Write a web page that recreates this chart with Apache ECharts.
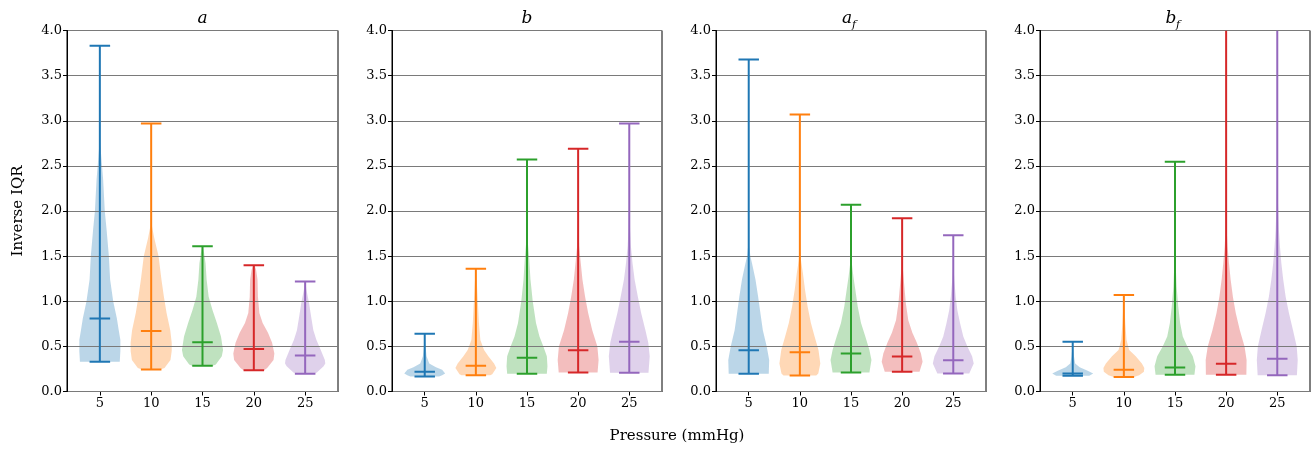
<!DOCTYPE html>
<html>
<head>
<meta charset="utf-8">
<script src="https://cdn.jsdelivr.net/npm/echarts@6/dist/echarts.min.js"></script>
<style>html,body{margin:0;padding:0;background:#fff}#c{width:1312px;height:451px}</style>
</head>
<body>
<div id="c"></div>
<script>
// ---------------- data ----------------
const positions = [5, 10, 15, 20, 25];
const xTickLabels = ['5', '10', '15', '20', '25'];
const yTickLabels = ['0.0', '0.5', '1.0', '1.5', '2.0', '2.5', '3.0', '3.5', '4.0'];
const panelTitles = [['a', ''], ['b', ''], ['a', 'f'], ['b', 'f']];

// panel a
const aMin = [0.33, 0.244, 0.284, 0.236, 0.196];
const aMax = [3.83, 2.97, 1.61, 1.40, 1.22];
const aMedian = [0.81, 0.67, 0.547, 0.47, 0.40];
const aShape = [
  [[0.33,0.97],[0.45,1.0],[0.57,1.0],[0.68,0.92],[0.81,0.83],[1.0,0.65],[1.24,0.5],[1.5,0.44],[1.79,0.33],[2.0,0.24],[2.35,0.16],[2.6,0.07],[2.75,0.02],[3.83,0.0]],
  [[0.244,0.45],[0.26,0.65],[0.35,0.94],[0.45,1.0],[0.54,1.0],[0.68,0.93],[0.87,0.75],[1.05,0.62],[1.24,0.5],[1.5,0.36],[1.7,0.15],[1.83,0.04],[2.0,0.01],[2.97,0]],
  [[0.284,0.5],[0.30,0.65],[0.39,0.94],[0.46,1.0],[0.61,0.9],[0.76,0.7],[0.9,0.49],[1.05,0.3],[1.24,0.2],[1.42,0.15],[1.53,0.08],[1.61,0.02]],
  [[0.236,0.5],[0.26,0.65],[0.35,0.96],[0.42,1.0],[0.54,0.89],[0.65,0.69],[0.76,0.43],[0.87,0.27],[1.05,0.2],[1.24,0.18],[1.35,0.11],[1.40,0.03]],
  [[0.196,0.45],[0.21,0.57],[0.28,0.9],[0.31,0.98],[0.35,0.96],[0.46,0.76],[0.57,0.55],[0.68,0.4],[0.83,0.29],[0.98,0.19],[1.13,0.06],[1.22,0.01]]
];

// panel b
const bMin = [0.166, 0.18, 0.196, 0.21, 0.207];
const bMax = [0.64, 1.36, 2.57, 2.69, 2.97];
const bMedian = [0.22, 0.284, 0.373, 0.458, 0.55];
const bShape = [
  [[0.166,0.7],[0.18,0.85],[0.2,1.0],[0.24,0.85],[0.27,0.55],[0.31,0.22],[0.39,0.09],[0.5,0.04],[0.64,0.01]],
  [[0.18,0.7],[0.19,0.8],[0.26,1.0],[0.31,0.89],[0.39,0.61],[0.46,0.4],[0.57,0.22],[0.76,0.15],[0.98,0.1],[1.2,0.05],[1.36,0.01]],
  [[0.196,0.97],[0.28,1.0],[0.39,0.97],[0.5,0.8],[0.61,0.61],[0.76,0.44],[1.0,0.28],[1.24,0.17],[1.5,0.1],[1.68,0.03],[2.0,0.01],[2.57,0]],
  [[0.21,0.95],[0.35,1.0],[0.5,0.94],[0.68,0.69],[0.87,0.49],[1.05,0.34],[1.24,0.21],[1.42,0.13],[1.61,0.05],[1.9,0.01],[2.69,0]],
  [[0.207,0.94],[0.39,1.0],[0.54,0.93],[0.68,0.79],[0.87,0.58],[1.05,0.42],[1.24,0.26],[1.42,0.16],[1.61,0.08],[1.79,0.04],[2.1,0.01],[2.97,0]]
];

// panel a_f
const afMin = [0.196, 0.177, 0.21, 0.218, 0.20];
const afMax = [3.68, 3.07, 2.07, 1.92, 1.73];
const afMedian = [0.458, 0.436, 0.42, 0.388, 0.347];
const afShape = [
  [[0.196,0.98],[0.35,1.0],[0.5,0.88],[0.68,0.69],[0.87,0.57],[1.05,0.46],[1.24,0.33],[1.42,0.16],[1.5,0.08],[1.61,0.03],[2.2,0.005],[3.68,0]],
  [[0.177,0.8],[0.2,0.9],[0.31,1.0],[0.46,0.91],[0.61,0.72],[0.76,0.54],[0.94,0.38],[1.13,0.25],[1.31,0.15],[1.46,0.05],[1.6,0.01],[3.07,0]],
  [[0.21,0.9],[0.35,1.0],[0.46,0.9],[0.61,0.7],[0.76,0.49],[0.94,0.33],[1.13,0.21],[1.27,0.12],[1.42,0.04],[1.6,0.01],[2.07,0]],
  [[0.218,0.85],[0.33,1.0],[0.42,0.92],[0.54,0.72],[0.65,0.5],[0.79,0.3],[0.98,0.18],[1.16,0.11],[1.35,0.04],[1.5,0.01],[1.92,0]],
  [[0.2,0.78],[0.31,1.0],[0.39,0.92],[0.5,0.69],[0.61,0.49],[0.76,0.33],[0.9,0.2],[1.05,0.12],[1.24,0.05],[1.4,0.01],[1.73,0]]
];

// panel b_f
const bfMin = [0.174, 0.162, 0.185, 0.185, 0.18];
const bfMax = [0.55, 1.07, 2.545, 4.6, 4.8];
const bfMedian = [0.2, 0.24, 0.266, 0.307, 0.362];
const bfShape = [
  [[0.174,0.81],[0.2,1.0],[0.23,0.73],[0.27,0.34],[0.31,0.12],[0.39,0.06],[0.46,0.03],[0.55,0.01]],
  [[0.162,0.49],[0.18,0.75],[0.22,0.98],[0.26,1.0],[0.31,0.88],[0.39,0.58],[0.46,0.26],[0.57,0.13],[0.76,0.07],[0.94,0.03],[1.07,0.01]],
  [[0.185,0.95],[0.28,1.0],[0.39,0.87],[0.5,0.6],[0.61,0.38],[0.76,0.25],[0.94,0.16],[1.16,0.08],[1.42,0.03],[1.8,0.01],[2.545,0]],
  [[0.185,0.99],[0.35,1.0],[0.5,0.9],[0.68,0.67],[0.87,0.47],[1.05,0.33],[1.24,0.22],[1.42,0.14],[1.61,0.07],[1.79,0.03],[2.2,0.01],[4.6,0]],
  [[0.18,0.96],[0.35,1.0],[0.5,0.95],[0.68,0.77],[0.87,0.57],[1.05,0.41],[1.24,0.29],[1.42,0.2],[1.61,0.13],[1.79,0.08],[2.05,0.04],[2.4,0.01],[4.8,0]]
];

const panels = [
  {min: aMin, max: aMax, median: aMedian, shape: aShape},
  {min: bMin, max: bMax, median: bMedian, shape: bShape},
  {min: afMin, max: afMax, median: afMedian, shape: afShape},
  {min: bfMin, max: bfMax, median: bfMedian, shape: bfShape}
];

// ---------------- styles ----------------
const lineColors = ['#1f77b4', '#ff7f0e', '#2ca02c', '#d62728', '#9467bd'];
const fillColors = ['rgba(31,119,180,0.3)', 'rgba(255,127,14,0.3)', 'rgba(44,160,44,0.3)', 'rgba(214,39,40,0.3)', 'rgba(148,103,189,0.3)'];
const HALF_W = 2;     // half of violin width (data units)
const CAP_HALF = 1;   // half of cap width (data units)
const FONT = 'DejaVu Serif';
const gridBoxes = [
  {left: 67, top: 30.5, width: 271, height: 361},
  {left: 392, top: 30.5, width: 270, height: 361},
  {left: 716, top: 30.5, width: 270, height: 361},
  {left: 1040, top: 30.5, width: 270, height: 361}
];

function clampY(p, cs) { return [p[0], Math.max(p[1], cs.y)]; }

function bodyRenderer(panel) {
  return function (params, api) {
    const i = params.dataIndex;
    const pos = positions[i];
    const cs = params.coordSys;
    const right = [], left = [];
    panel.shape[i].forEach(function (d) {
      right.push(clampY(api.coord([pos + d[1] * HALF_W, d[0]]), cs));
      left.push(clampY(api.coord([pos - d[1] * HALF_W, d[0]]), cs));
    });
    const pts = right.concat(left.reverse());
    return {type: 'polygon', shape: {points: pts}, style: {fill: fillColors[i], stroke: null}};
  };
}

function lineRenderer(panel) {
  return function (params, api) {
    const i = params.dataIndex;
    const pos = positions[i];
    const cs = params.coordSys;
    const st = {stroke: lineColors[i], lineWidth: 2};
    const pMin = api.coord([pos, panel.min[i]]);
    const pMaxRaw = api.coord([pos, panel.max[i]]);
    const pMax = clampY(pMaxRaw, cs);
    const pMed = api.coord([pos, panel.median[i]]);
    const capPx = api.size([CAP_HALF, 0])[0];
    const children = [
      {type: 'line', shape: {x1: pMin[0], y1: pMin[1], x2: pMax[0], y2: pMax[1]}, style: st},
      {type: 'line', shape: {x1: pMin[0] - capPx, y1: pMin[1], x2: pMin[0] + capPx, y2: pMin[1]}, style: st},
      {type: 'line', shape: {x1: pMed[0] - capPx, y1: pMed[1], x2: pMed[0] + capPx, y2: pMed[1]}, style: st}
    ];
    if (pMaxRaw[1] >= cs.y) {
      children.push({type: 'line', shape: {x1: pMax[0] - capPx, y1: pMax[1], x2: pMax[0] + capPx, y2: pMax[1]}, style: st});
    }
    return {type: 'group', children: children};
  };
}

const grid = [], xAxis = [], yAxis = [], series = [], graphic = [];
panels.forEach(function (panel, k) {
  grid.push(Object.assign({show: true, borderColor: '#000', borderWidth: 1, backgroundColor: 'transparent'}, gridBoxes[k]));
  xAxis.push({
    type: 'value', gridIndex: k, min: 1.8, max: 28.2,
    axisLine: {show: true, lineStyle: {color: '#000', width: 1}},
    axisTick: {show: true, customValues: positions, length: 4, lineStyle: {color: '#000', width: 1}},
    axisLabel: {show: true, customValues: positions, color: '#000', fontFamily: FONT, fontSize: 13, margin: 6,
      formatter: function (v) { const j = positions.indexOf(v); return j >= 0 ? xTickLabels[j] : ''; }},
    splitLine: {show: false}
  });
  yAxis.push({
    type: 'value', gridIndex: k, min: 0, max: 4, interval: 0.5, z: 2,
    axisLine: {show: true, lineStyle: {color: '#000', width: 1}},
    axisTick: {show: true, length: 4, lineStyle: {color: '#000', width: 1}},
    axisLabel: {color: '#000', fontFamily: FONT, fontSize: 13, margin: 5,
      formatter: function (v) { return yTickLabels[Math.round(v / 0.5)]; }},
    splitLine: {show: true, lineStyle: {color: '#7a7a7a', width: 1.2}}
  });
  const data = positions.map(function (p, i) { return [p, panel.min[i], panel.max[i], panel.median[i]]; });
  series.push({type: 'custom', xAxisIndex: k, yAxisIndex: k, z: 1, renderItem: bodyRenderer(panel), data: data, encode: {x: 0, y: [1, 2]}, silent: true, clip: true});
  series.push({type: 'custom', xAxisIndex: k, yAxisIndex: k, z: 3, renderItem: lineRenderer(panel), data: data, encode: {x: 0, y: [1, 2]}, silent: true, clip: true});

  const cx = gridBoxes[k].left + gridBoxes[k].width / 2;
  const t = panelTitles[k];
  if (t[1]) {
    graphic.push({type: 'text', x: cx - 4, y: 19, style: {text: t[0], font: 'italic 17px "' + FONT + '"', fill: '#000', textAlign: 'center', textVerticalAlign: 'middle'}});
    graphic.push({type: 'text', x: cx + 3, y: 25, style: {text: t[1], font: 'italic 11px "' + FONT + '"', fill: '#000', textAlign: 'center', textVerticalAlign: 'middle'}});
  } else {
    graphic.push({type: 'text', x: cx, y: 19, style: {text: t[0], font: 'italic 17px "' + FONT + '"', fill: '#000', textAlign: 'center', textVerticalAlign: 'middle'}});
  }
});
graphic.push({type: 'text', x: 18, y: 211, rotation: Math.PI / 2, style: {text: 'Inverse IQR', font: '15px "' + FONT + '"', fill: '#000', textAlign: 'center', textVerticalAlign: 'middle'}});
graphic.push({type: 'text', x: 677, y: 436, style: {text: 'Pressure (mmHg)', font: '15px "' + FONT + '"', fill: '#000', textAlign: 'center', textVerticalAlign: 'middle'}});

const chart = echarts.init(document.getElementById('c'), null, {renderer: 'canvas'});
chart.setOption({animation: false, backgroundColor: '#fff', grid: grid, xAxis: xAxis, yAxis: yAxis, series: series, graphic: graphic});
</script>
</body>
</html>
